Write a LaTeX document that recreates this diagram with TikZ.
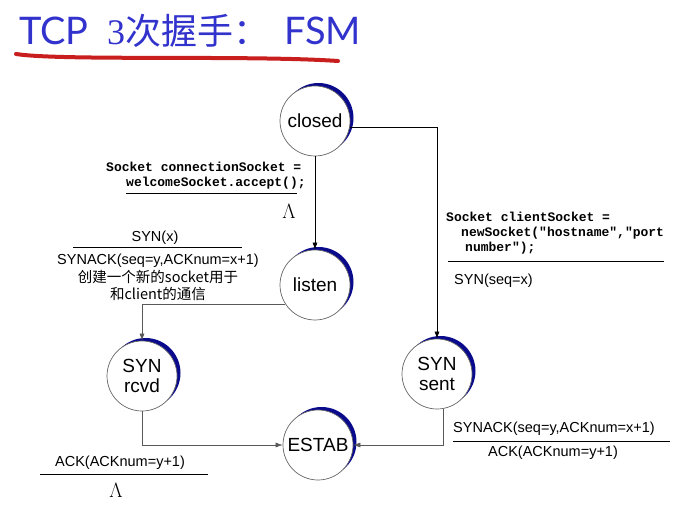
\documentclass[tikz,border=0pt]{standalone}
\usepackage{fontspec}
\setmainfont{Liberation Sans}
\newfontfamily\cjkfont{Noto Sans CJK SC}
\newfontfamily\titlefont{Lato}
\newfontfamily\monofont{Liberation Mono}
\usetikzlibrary{arrows.meta,shadows,calc}
\definecolor{titleblue}{RGB}{50,50,205}
\definecolor{navyc}{RGB}{10,10,140}
\definecolor{redline}{RGB}{200,30,30}
\tikzset{
  state/.style={circle, draw=black!60, line width=0.7pt, fill=white, minimum size=70pt, inner sep=0pt,
    font=\fontsize{19}{19.5}\selectfont, align=center,
    general shadow={fill=navyc, shadow xshift=3.5pt, shadow yshift=3pt}},
  conn/.style={line width=0.6pt, -{Latex[length=7pt,width=5pt]}},
  mono/.style={font=\monofont\bfseries\fontsize{13}{15}\selectfont, inner sep=0pt, align=left},
  lab/.style={font=\fontsize{14.5}{17}\selectfont, inner sep=0pt},
  cjklab/.style={font=\cjkfont\fontsize{14.5}{17}\selectfont, inner sep=0pt},
  bar/.style={line width=0.7pt},
  lam/.style={font=\fontsize{20}{20}\selectfont, inner sep=0pt}
}
\begin{document}
\begin{tikzpicture}[x=1pt,y=-1pt]
\useasboundingbox (0,0) rectangle (684,510);
% title
\node[anchor=base west, inner sep=0pt, text=titleblue, font=\titlefont\fontsize{38}{38}\selectfont] (t1) at (19,45) {TCP};
\node[anchor=base west, inner sep=0pt, text=titleblue, font=\cjkfont\fontsize{36}{36}\selectfont] (t2) at (107,45) {\fontspec{Liberation Serif}3\cjkfont 次握手：};
\node[anchor=base west, inner sep=0pt, text=titleblue, font=\titlefont\fontsize{38}{38}\selectfont] (t3) at (284,45) {FSM};
\draw[redline, line width=4pt, line cap=round] (16,54) .. controls (60,61) and (250,55) .. (338,61);

% states
\node[state] (closed) at (315,121) {closed};
\node[state] (listen) at (315,285) {listen};
\node[state] (rcvd) at (142,376) {SYN\\rcvd};
\node[state] (sent) at (437,374) {SYN\\sent};
\node[state] (estab) at (318,445) {ESTAB};

% connectors
\draw[conn] (closed.south) -- (listen.north);
\draw[conn] (closed.-10) -| (sent.north);
\draw[conn, draw=black!65] (listen.213) -| (rcvd.north);
\draw[conn, draw=black!65] (rcvd.south) |- (estab.west);
\draw[conn, draw=black!65] (sent.-80) |- (estab.east);

% label: closed -> listen
\node[mono, anchor=north west] (l1) at (106,162) {Socket connectionSocket =\\\hspace*{20pt}welcomeSocket.accept();};
\draw[bar] (126,193) -- (297,193);
\node[lam] (l1b) at (289,211) {$\Lambda$};

% label: listen -> rcvd
\node[lab] (l2a) at (155,238) {SYN(x)};
\draw[bar] (73,247) -- (242,247);
\node[lab] (l2b) at (158,261) {SYNACK(seq=y,ACKnum=x+1)};
\node[cjklab] (l2c) at (158,277) {创建一个新的socket用于};
\node[cjklab] (l2d) at (158,294) {和client的通信};

% label: closed -> sent
\node[mono, anchor=north west] (l3) at (446,212) {Socket clientSocket =\\\hspace*{15pt}newSocket("hostname","port\\\hspace*{19pt}number");};
\draw[bar] (448,261) -- (664,261);
\node[lab, anchor=west] (l3b) at (454,281) {SYN(seq=x)};

% label: sent -> estab
\node[lab, anchor=west] (l4a) at (453,429) {SYNACK(seq=y,ACKnum=x+1)};
\draw[bar] (453,441) -- (670,441);
\node[lab] (l4b) at (553,453) {ACK(ACKnum=y+1)};

% label: rcvd -> estab
\node[lab] (l5a) at (120,463) {ACK(ACKnum=y+1)};
\draw[bar] (40,474) -- (208,474);
\node[lam] (l5b) at (116,490) {$\Lambda$};
\end{tikzpicture}
\end{document}
